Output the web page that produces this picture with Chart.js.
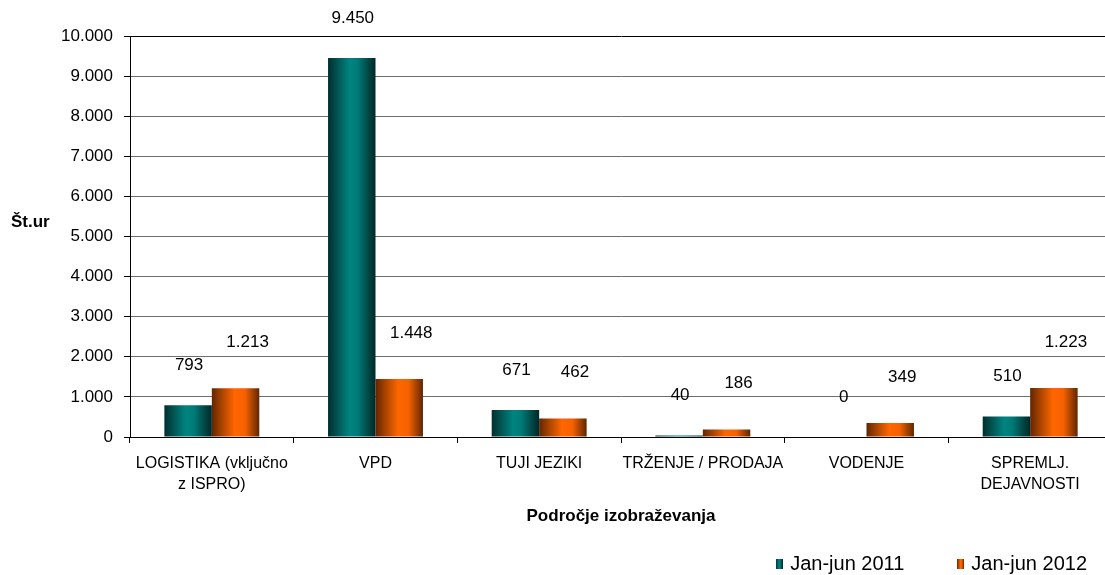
<!DOCTYPE html>
<html><head><meta charset="utf-8">
<script src="https://cdn.jsdelivr.net/npm/chart.js@4.4.1/dist/chart.umd.min.js"></script>
<style>html,body{margin:0;padding:0;overflow:hidden;background:#fff;width:1105px;height:575px}canvas{display:block}</style>
</head><body>
<canvas id="c" width="1142" height="584"></canvas>
<script>
const categories = [['LOGISTIKA (vključno','z ISPRO)'],'VPD','TUJI JEZIKI','TRŽENJE / PRODAJA','VODENJE',['SPREMLJ.','DEJAVNOSTI']];
const seriesNames = ['Jan-jun 2011','Jan-jun 2012'];
const values2011 = [793, 9450, 671, 40, 0, 510];
const values2012 = [1213, 1448, 462, 186, 349, 1223];
const yMin = 0, yMax = 10000, yStep = 1000;
const yTitle = 'Št.ur';
const xTitle = 'Področje izobraževanja';

const FONT = '"Liberation Sans", Arial, Helvetica, sans-serif';
const fmt = v => String(v).replace(/\B(?=(\d{3})+(?!\d))/g, '.');

const stops = [
  [[0,'#012f2f'],[0.18,'#02514f'],[0.45,'#008480'],[0.62,'#007b77'],[0.86,'#024543'],[1,'#012828']],
  [[0,'#632500'],[0.2,'#a54200'],[0.48,'#ff6600'],[0.7,'#f66100'],[0.88,'#9c3e00'],[1,'#5e2600']]
];
const labelOffset = [{dx:1, dy:40},{dx:12, dy:46}];

function makeGrad(ctx, x0, x1, s){
  const g = ctx.createLinearGradient(x0, 0, x1, 0);
  s.forEach(([o,c]) => g.addColorStop(o,c));
  return g;
}
function legendImg(s){
  const cv = document.createElement('canvas'); cv.width = 7; cv.height = 10;
  const c = cv.getContext('2d'); c.fillStyle = makeGrad(c, 0, 7, s); c.fillRect(0,0,7,10);
  return cv;
}
const legendImgs = stops.map(legendImg);

const gradientPlugin = {
  id: 'barGradient',
  beforeDatasetsDraw(chart){
    chart.data.datasets.forEach((ds, di) => {
      const meta = chart.getDatasetMeta(di);
      meta.data.forEach(el => {
        const w = el.width || 1;
        el.options = Object.assign({}, el.options, {backgroundColor: makeGrad(chart.ctx, el.x - w/2, el.x + w/2, stops[di])});
      });
    });
  }
};
const labelPlugin = {
  id: 'valueLabels',
  afterDatasetsDraw(chart){
    const ctx = chart.ctx; ctx.save();
    ctx.font = '17px ' + FONT; ctx.fillStyle = '#000'; ctx.textAlign = 'center'; ctx.textBaseline = 'middle';
    chart.data.datasets.forEach((ds, di) => {
      const meta = chart.getDatasetMeta(di); const off = labelOffset[di];
      meta.data.forEach((el, i) => ctx.fillText(fmt(ds.data[i]), el.x + off.dx, el.y - off.dy));
    });
    ctx.restore();
  },
  afterDraw(chart){
    const ctx = chart.ctx; ctx.save();
    ctx.font = 'bold 17px ' + FONT; ctx.fillStyle = '#000'; ctx.textAlign = 'left'; ctx.textBaseline = 'middle';
    ctx.fillText(yTitle, 11, 222);
    ctx.restore();
  }
};

new Chart(document.getElementById('c'), {
  type: 'bar',
  data: {
    labels: categories,
    datasets: [
      {label: seriesNames[0], data: values2011, backgroundColor: '#008080', borderWidth: 0},
      {label: seriesNames[1], data: values2012, backgroundColor: '#ff6600', borderWidth: 0}
    ]
  },
  options: {
    responsive: false,
    animation: false,
    events: [],
    categoryPercentage: 0.58,
    barPercentage: 1,
    layout: {padding: {top: 36, left: 0, right: 0, bottom: 0}},
    plugins: {
      tooltip: {enabled: false},
      legend: {
        position: 'bottom', align: 'end',
        labels: {
          font: {family: FONT, size: 20}, color: '#000', padding: 55,
          usePointStyle: true, pointStyleWidth: 2,
          generateLabels: chart => chart.data.datasets.map((ds, i) => ({
            text: ds.label, pointStyle: legendImgs[i], fillStyle: ds.backgroundColor,
            strokeStyle: 'rgba(0,0,0,0)', lineWidth: 0, hidden: false, datasetIndex: i
          }))
        }
      }
    },
    scales: {
      x: {
        grid: {display: true, drawOnChartArea: false, drawTicks: true, tickLength: 6, tickColor: '#000', offset: true},
        border: {display: true, color: '#000', width: 1},
        ticks: {color: '#000', font: {family: FONT, size: 16, lineHeight: 1.3}, padding: 10, maxRotation: 0, autoSkip: false},
        title: {display: true, text: xTitle, color: '#000', font: {family: FONT, size: 17, weight: 'bold'}, padding: {top: 0, bottom: -28}},
        afterFit: s => { s.height = 62; s.paddingRight = 30; }
      },
      y: {
        min: yMin, max: yMax,
        grid: {color: c => (c.tick && c.tick.value === yMax) ? '#000' : '#6e6e6e', lineWidth: 1, tickLength: 6, tickColor: '#000', drawTicks: true},
        border: {display: true, color: '#000', width: 1},
        ticks: {stepSize: yStep, color: '#000', font: {family: FONT, size: 17}, padding: 11, callback: v => fmt(v)},
        afterFit: s => { s.width = 130; }
      }
    }
  },
  plugins: [gradientPlugin, labelPlugin]
});
</script>
</body></html>
